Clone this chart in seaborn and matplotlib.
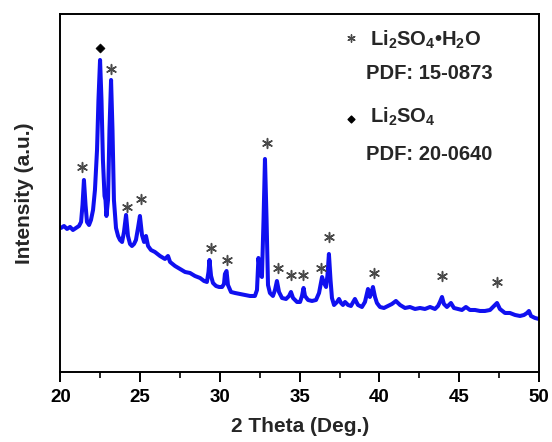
import matplotlib
matplotlib.use("Agg")
import matplotlib.pyplot as plt
import seaborn as sns
import pandas as pd

# XRD pattern of the lithium sulfate sample (2θ in degrees, intensity in counts)
two_theta = [
    20.03, 20.22, 20.41, 20.60, 20.78, 20.97, 21.16, 21.29, 21.38, 21.47,
    21.57, 21.66, 21.79, 21.91, 22.04, 22.16, 22.29, 22.38, 22.48, 22.57,
    22.66, 22.76, 22.82, 22.88, 22.98, 23.07, 23.17, 23.26, 23.35, 23.48,
    23.61, 23.73, 23.86, 23.98, 24.11, 24.23, 24.36, 24.48, 24.61, 24.73,
    24.86, 24.98, 25.11, 25.24, 25.36, 25.49, 25.67, 25.92, 26.24, 26.55,
    26.74, 26.87, 27.18, 27.49, 27.81, 28.12, 28.43, 28.75, 29.00, 29.18,
    29.28, 29.34, 29.44, 29.56, 29.75, 29.94, 30.13, 30.25, 30.31, 30.41,
    30.50, 30.69, 30.94, 31.25, 31.57, 31.88, 32.19, 32.32, 32.41, 32.54,
    32.63, 32.73, 32.82, 32.92, 33.01, 33.13, 33.32, 33.45, 33.57, 33.70,
    33.89, 34.14, 34.33, 34.45, 34.58, 34.83, 35.02, 35.14, 35.24, 35.33,
    35.52, 35.77, 36.02, 36.21, 36.40, 36.52, 36.65, 36.74, 36.83, 36.93,
    37.02, 37.15, 37.34, 37.46, 37.59, 37.71, 37.84, 38.03, 38.21, 38.46,
    38.65, 38.90, 39.09, 39.28, 39.40, 39.47, 39.59, 39.72, 39.84, 40.03,
    40.28, 40.53, 40.78, 41.03, 41.29, 41.60, 41.91, 42.23, 42.54, 42.85,
    43.17, 43.48, 43.67, 43.79, 43.92, 44.04, 44.23, 44.48, 44.67, 44.92,
    45.17, 45.42, 45.67, 45.99, 46.30, 46.61, 46.93, 47.18, 47.37, 47.55,
    47.87, 48.18, 48.50, 48.81, 49.06, 49.25, 49.37, 49.50, 49.75, 50.00,
]
intensity = [
    1440, 1460, 1430, 1450, 1420, 1440, 1460, 1500, 1670, 1920,
    1670, 1500, 1470, 1520, 1620, 1820, 2220, 2720, 3120, 2720,
    2120, 1760, 1720, 1560, 1720, 2420, 2920, 2420, 1720, 1440,
    1360, 1320, 1300, 1400, 1570, 1360, 1280, 1260, 1280, 1320,
    1440, 1560, 1370, 1300, 1360, 1260, 1220, 1200, 1160, 1130,
    1160, 1100, 1060, 1030, 1000, 990, 960, 940, 910, 900,
    1000, 1120, 960, 890, 860, 850, 850, 880, 980, 1010,
    870, 800, 790, 780, 770, 760, 760, 820, 1140, 970,
    950, 1520, 2130, 1520, 870, 790, 760, 820, 910, 800,
    740, 730, 760, 800, 740, 700, 700, 760, 840, 760,
    720, 710, 720, 790, 950, 890, 850, 970, 1180, 920,
    740, 670, 700, 730, 690, 670, 700, 670, 660, 730,
    670, 650, 700, 830, 750, 780, 850, 750, 690, 650,
    640, 660, 680, 710, 670, 640, 650, 630, 640, 630,
    650, 630, 660, 700, 750, 680, 650, 690, 640, 630,
    620, 650, 620, 620, 610, 610, 620, 660, 690, 630,
    590, 590, 570, 560, 570, 590, 610, 560, 540, 530,
]

# Reflection labels: Li2SO4·H2O (asterisks) and Li2SO4 (diamond)
hydrate_2theta = [21.35, 23.17, 24.17, 25.05, 29.44, 30.44, 32.95, 33.64,
                  34.45, 35.20, 36.33, 36.83, 39.66, 43.92, 47.37]
hydrate_label_y = [2050, 3030, 1650, 1730, 1240, 1120, 2290, 1040,
                   970, 970, 1040, 1350, 990, 960, 900]
anhydrous_2theta = [22.48]
anhydrous_label_y = [3240]

x_ticks = [20, 25, 30, 35, 40, 45, 50]

sns.set_theme(style="ticks")
plt.rcParams["font.family"] = ["Liberation Sans", "DejaVu Sans"]
plt.rcParams["font.weight"] = "bold"
plt.rcParams["mathtext.fontset"] = "custom"
plt.rcParams["mathtext.rm"] = "Liberation Sans:bold"
plt.rcParams["mathtext.bf"] = "Liberation Sans:bold"
plt.rcParams["mathtext.default"] = "bf"

fig = plt.figure(figsize=(5.52, 4.42), dpi=100)
ax = fig.add_axes([0.1096, 0.1584, 0.8668, 0.8100])

pattern = pd.DataFrame({"two_theta": two_theta, "intensity": intensity})
sns.lineplot(data=pattern, x="two_theta", y="intensity", ax=ax,
             color="#1010F0", linewidth=2.9, estimator=None, sort=False)

hyd = pd.DataFrame({"x": hydrate_2theta, "y": hydrate_label_y})
sns.scatterplot(data=hyd, x="x", y="y", ax=ax, marker=(6, 2, 0), s=50,
                color="#4a4a4a", linewidth=1.1, edgecolor="#4a4a4a", zorder=5)
anh = pd.DataFrame({"x": anhydrous_2theta, "y": anhydrous_label_y})
sns.scatterplot(data=anh, x="x", y="y", ax=ax, marker="D", s=22,
                color="black", edgecolor="black", zorder=5)

ax.set_xlim(20, 50)
ax.set_ylim(0, 3580)
ax.set_xticks(x_ticks)
ax.set_xticks([22.5, 27.5, 32.5, 37.5, 42.5, 47.5], minor=True)
ax.set_yticks([])
ax.tick_params(axis="x", which="major", direction="out", length=7, width=1.4,
               pad=5, labelsize=13.5, colors="black")
ax.tick_params(axis="x", which="minor", direction="out", length=4, width=1.4)
for lbl in ax.get_xticklabels():
    lbl.set_fontweight("bold")
for side in ["top", "right", "bottom", "left"]:
    ax.spines[side].set_visible(True)
    ax.spines[side].set_linewidth(1.4)
    ax.spines[side].set_color("black")

ax.set_xlabel("2 Theta (Deg.)", fontsize=15, fontweight="bold")
ax.set_ylabel("Intensity (a.u.)", fontsize=15, fontweight="bold")
ax.xaxis.set_label_coords(0.5, -0.125)
ax.yaxis.set_label_coords(-0.055, 0.5)

# Phase key
key_size = 14.5
ax.scatter([0.607], [0.933], transform=ax.transAxes, marker=(6, 2, 0), s=28,
           color="#4a4a4a", linewidth=1.0, zorder=5)
ax.text(0.646, 0.911, r"Li$_2$SO$_4$•H$_2$O", transform=ax.transAxes,
        fontsize=key_size, fontweight="bold", va="baseline", ha="left")
ax.text(0.638, 0.818, "PDF: 15-0873", transform=ax.transAxes,
        fontsize=key_size, fontweight="bold", va="baseline", ha="left")
ax.scatter([0.607], [0.707], transform=ax.transAxes, marker="D", s=12,
           color="black", zorder=5)
ax.text(0.646, 0.696, r"Li$_2$SO$_4$", transform=ax.transAxes,
        fontsize=key_size, fontweight="bold", va="baseline", ha="left")
ax.text(0.638, 0.592, "PDF: 20-0640", transform=ax.transAxes,
        fontsize=key_size, fontweight="bold", va="baseline", ha="left")

fig.savefig("out.png", dpi=100)
